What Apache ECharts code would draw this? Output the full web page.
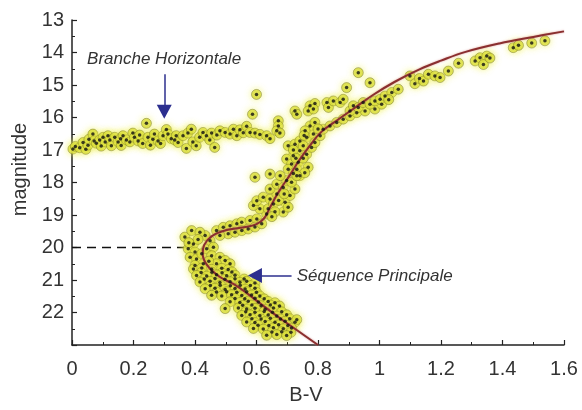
<!DOCTYPE html>
<html>
<head>
<meta charset="utf-8">
<script src="https://cdn.jsdelivr.net/npm/echarts@6/dist/echarts.min.js"></script>
<style>
  html, body { margin: 0; padding: 0; background: #ffffff; }
  #chart { width: 582px; height: 410px; }
</style>
</head>
<body>
<div id="chart"></div>
<script>
// Colour-magnitude diagram of a globular cluster: B-V colour against apparent magnitude.

// Horizontal branch stars [B-V, magnitude]
const horizontalBranch = [
  [0.003,16.97],[0.011,16.89],[0.025,16.93],[0.036,16.77],[0.045,16.98],[0.052,16.85],[0.055,16.67],
  [0.068,16.51],[0.072,16.72],[0.079,16.79],[0.090,16.69],[0.095,16.88],[0.101,16.61],[0.108,16.75],
  [0.117,16.56],[0.123,16.69],[0.128,16.87],[0.139,16.61],[0.150,16.75],[0.158,16.65],[0.160,16.86],
  [0.166,16.56],[0.177,16.69],[0.188,16.75],[0.198,16.48],[0.203,16.61],[0.215,16.72],[0.220,16.54],
  [0.230,16.80],[0.242,16.18],[0.247,16.61],[0.255,16.85],[0.263,16.67],[0.268,16.51],[0.280,16.72],
  [0.288,16.80],[0.296,16.56],[0.307,16.37],[0.312,16.51],[0.323,16.65],[0.334,16.69],[0.339,16.56],
  [0.345,16.77],[0.361,16.56],[0.372,16.95],[0.377,16.48],[0.388,16.36],[0.393,16.75],[0.404,16.87],
  [0.415,16.61],[0.426,16.46],[0.437,16.56],[0.448,16.69],[0.454,16.48],[0.464,16.92],[0.471,16.54],
  [0.481,16.41],[0.498,16.46],[0.514,16.51],[0.525,16.36],[0.536,16.56],[0.546,16.38],[0.557,16.47],
  [0.568,16.27],[0.579,16.46],[0.595,16.48],[0.611,16.52],[0.633,16.56],[0.644,16.65]
];

// Isolated stars between the horizontal branch and the giant branch
const fieldStars = [
  [0.600,15.29],[0.587,15.90],[0.671,16.10],[0.671,16.26],[0.666,16.41],[0.676,16.48],
  [0.931,14.62],[0.595,17.84]
];

// Red giant branch
const giantBranch = [
  [0.725,15.80],[0.731,15.90],[0.774,15.64],[0.790,15.57],[0.768,15.80],[0.785,15.74],
  [0.703,16.87],[0.725,16.82],[0.741,16.72],[0.763,16.61],[0.785,16.51],[0.774,16.26],[0.790,16.15],
  [0.758,16.41],[0.741,17.02],[0.720,17.18],[0.698,17.28],[0.714,17.43],[0.736,17.38],[0.763,17.13],
  [0.779,16.92],[0.790,16.77],[0.752,16.87],[0.731,17.59],[0.703,17.59],[0.741,17.79],[0.768,17.53],
  [0.807,16.56],[0.817,16.36],[0.839,16.26],[0.861,16.15],[0.882,16.05],[0.904,15.95],[0.926,15.85],
  [0.953,15.80],[0.985,15.74],[1.007,15.59],[0.829,15.54],[0.834,15.69],[0.850,15.49],[0.872,15.54],
  [0.882,15.44],[0.904,15.80],[0.915,15.64],[0.931,15.69],[0.947,15.54],[0.969,15.59],[0.985,15.49],
  [1.002,15.44],[1.018,15.34],[1.040,15.23],[1.061,15.13],[0.893,15.08],[0.969,14.93],[1.030,15.45],
  [1.099,14.72],[1.115,14.96],[1.130,14.80],[1.143,14.88],[1.159,14.67],[1.180,14.72],[1.197,14.77],
  [1.224,14.57],[1.257,14.33],[1.311,14.26],[1.327,14.16],[1.349,14.11],[1.338,14.37],[1.359,14.17],
  [1.435,13.85],[1.452,13.78],[1.495,13.71],[1.538,13.64],
  [0.720,17.00],[0.752,17.25],[0.728,17.25],[0.755,16.55],[0.800,16.35],[0.720,17.72],[0.757,17.70]
];

// Subgiant branch and turnoff
const turnoff = [
  [0.470,19.48],[0.492,19.38],[0.514,19.33],[0.536,19.27],[0.552,19.22],[0.579,19.17],[0.601,19.12],
  [0.508,19.58],[0.530,19.53],[0.552,19.48],[0.573,19.43],[0.595,19.37],[0.617,19.27],[0.481,19.63],
  [0.633,18.97],[0.611,18.81],[0.590,18.71],[0.601,18.56],[0.622,18.45],[0.644,18.51],[0.638,18.81],
  [0.655,18.66],[0.666,18.35],[0.644,18.20],[0.666,18.05],[0.687,18.15],[0.698,17.94],[0.677,17.79],
  [0.644,17.74],[0.693,18.61],[0.709,18.40],[0.725,18.20],[0.714,17.99],[0.731,17.79],[0.687,18.91],
  [0.703,18.76],[0.660,18.90],[0.672,18.55],[0.690,18.35],[0.650,19.05],
  [0.367,19.68],[0.389,19.48],[0.395,19.89],[0.378,20.04],[0.400,20.14],[0.384,20.30],[0.405,20.35],
  [0.422,20.19],[0.438,20.04],[0.449,19.79],[0.433,19.63],[0.416,19.53],[0.460,19.99],[0.454,20.25],
  [0.481,20.30],[0.498,20.40],[0.514,20.50],[0.470,20.50],[0.427,20.50],[0.400,20.55],[0.445,20.42],
  [0.410,19.75],[0.380,19.85]
];

// Main sequence below the turnoff
const mainSequence = [
  [0.395,20.66],[0.422,20.63],[0.454,20.67],[0.487,20.64],[0.508,20.68],
  [0.420,20.77],[0.455,20.76],[0.488,20.78],[0.520,20.75],
  [0.405,20.86],[0.438,20.88],[0.470,20.84],[0.503,20.87],[0.530,20.85],
  [0.430,20.97],[0.465,20.95],[0.497,20.98],[0.530,20.96],[0.560,20.97],
  [0.416,21.06],[0.449,21.04],[0.481,21.08],[0.514,21.05],[0.546,21.07],[0.568,21.04],[0.595,21.09],
  [0.450,21.17],[0.482,21.16],[0.515,21.18],[0.547,21.16],[0.580,21.17],
  [0.433,21.27],[0.465,21.25],[0.498,21.29],[0.530,21.26],[0.563,21.28],[0.595,21.25],
  [0.470,21.37],[0.503,21.36],[0.536,21.38],[0.568,21.36],[0.600,21.38],
  [0.454,21.47],[0.487,21.49],[0.519,21.45],[0.552,21.48],[0.584,21.46],[0.611,21.49],
  [0.530,21.57],[0.562,21.58],[0.595,21.56],[0.625,21.58],
  [0.514,21.67],[0.546,21.69],[0.573,21.65],[0.606,21.68],[0.638,21.66],[0.660,21.70],
  [0.555,21.78],[0.585,21.77],[0.615,21.79],[0.645,21.77],[0.675,21.80],
  [0.498,21.88],[0.541,21.86],[0.568,21.89],[0.595,21.87],[0.628,21.90],[0.655,21.86],
  [0.565,21.98],[0.595,21.99],[0.625,21.97],[0.652,21.99],[0.682,21.98],
  [0.552,22.09],[0.579,22.07],[0.611,22.10],[0.638,22.08],[0.666,22.11],[0.698,22.07],
  [0.585,22.19],[0.615,22.20],[0.645,22.18],[0.678,22.20],[0.708,22.19],
  [0.568,22.29],[0.595,22.31],[0.628,22.28],[0.660,22.30],[0.693,22.27],[0.725,22.30],[0.731,22.22],
  [0.605,22.39],[0.640,22.40],[0.672,22.38],[0.702,22.40],
  [0.590,22.49],[0.622,22.51],[0.655,22.47],[0.687,22.50],[0.714,22.48],
  [0.650,22.60],[0.682,22.59],[0.712,22.61],
  [0.633,22.70],[0.666,22.68],[0.698,22.71]
];

// Fitted isochrone [B-V, magnitude]
const isochrone = [
  [0.80,23.0],[0.74,22.6],[0.68,22.2],[0.62,21.78],[0.575,21.45],[0.53,21.15],[0.48,20.9],
  [0.44,20.55],[0.425,20.2],[0.43,19.92],[0.455,19.65],[0.50,19.47],[0.56,19.38],[0.60,19.28],
  [0.625,19.1],[0.645,18.75],[0.665,18.4],[0.685,18.1],[0.71,17.75],[0.74,17.3],[0.775,16.85],
  [0.81,16.45],[0.86,16.1],[0.92,15.7],[0.98,15.3],[1.05,14.9],[1.13,14.52],[1.2,14.25],
  [1.28,13.98],[1.39,13.72],[1.5,13.52],[1.6,13.35]
];

// Turnoff magnitude guide
const turnoffLevel = [[0, 20], [0.40, 20]];

// Annotation labels and their arrows
const labelHB = { text: 'Branche Horizontale', at: [0.049, 14.21] };
const labelMS = { text: 'Séquence Principale', at: [0.731, 20.87] };
const arrowHB = [[0.30, 14.67], [0.30, 15.82]];
const arrowMS = [[0.714, 20.86], [0.595, 20.86]];

const stars = horizontalBranch.concat(fieldStars, giantBranch, turnoff, mainSequence);

const ink = '#222222';
const arrowBlue = '#2c2f8e';

const chart = echarts.init(document.getElementById('chart'), null, { renderer: 'canvas' });

chart.setOption({
  animation: false,
  backgroundColor: '#ffffff',
  grid: { left: 72, right: 18, top: 20, bottom: 63 },
  xAxis: {
    type: 'value', min: 0, max: 1.6, interval: 0.2, position: 'bottom',
    name: 'B-V', nameLocation: 'middle', nameGap: 40,
    nameTextStyle: { fontSize: 20, color: '#333', fontFamily: 'Liberation Sans', padding: [0, 24, 0, 0] },
    axisLine: { onZero: false, lineStyle: { color: ink, width: 1.5 } },
    axisTick: { inside: true, length: 5, lineStyle: { color: ink, width: 1.2 } },
    minorTick: { show: true, splitNumber: 2, length: 3, lineStyle: { color: ink, width: 1 } },
    axisLabel: { fontSize: 20, color: '#333', margin: 14, fontFamily: 'Liberation Sans' },
    splitLine: { show: false }
  },
  yAxis: {
    type: 'value', min: 13, max: 23, interval: 1, inverse: true,
    name: 'magnitude', nameLocation: 'middle', nameGap: 33, nameRotate: 90,
    nameTextStyle: { fontSize: 20, color: '#333', fontFamily: 'Liberation Sans', padding: [0, 0, 0, 26] },
    axisLine: { lineStyle: { color: ink, width: 1.5 } },
    axisTick: { inside: true, length: 5, lineStyle: { color: ink, width: 1.2 } },
    minorTick: { show: true, splitNumber: 2, length: 3, lineStyle: { color: ink, width: 1 } },
    axisLabel: { fontSize: 20, color: '#333', margin: 8, fontFamily: 'Liberation Sans',
      formatter: v => (v === 23 ? '' : String(v)) },
    splitLine: { show: false }
  },
  series: [
    {
      name: 'turnoff level', type: 'line', data: turnoffLevel, symbol: 'none', z: 1,
      lineStyle: { color: '#111', width: 1.6, type: [9, 6] },
      markLine: {
        silent: true, symbol: ['none', 'triangle'], symbolSize: [15, 14], precision: 3,
        lineStyle: { color: arrowBlue, width: 1.5, type: 'solid' },
        label: { show: false },
        data: [
          [{ coord: arrowHB[0] }, { coord: arrowHB[1] }],
          [{ coord: arrowMS[0] }, { coord: arrowMS[1] }]
        ]
      },
      markPoint: {
        silent: true, symbol: 'circle', symbolSize: 0,
        label: {
          show: true, position: 'right', distance: 0, formatter: '{b}',
          fontSize: 17, fontStyle: 'italic', color: '#333', fontFamily: 'Liberation Sans'
        },
        data: [
          { name: labelHB.text, coord: labelHB.at },
          { name: labelMS.text, coord: labelMS.at }
        ]
      }
    },
    {
      name: 'stars', type: 'scatter', data: stars, symbolSize: 10, z: 2,
      itemStyle: {
        color: '#d8dc3a', borderColor: 'rgba(85,85,25,0.6)', borderWidth: 0.8,
        shadowBlur: 7, shadowColor: 'rgba(240,242,90,0.95)'
      }
    },
    {
      name: 'isochrone', type: 'line', data: isochrone, smooth: 0.4, symbol: 'none', z: 3,
      lineStyle: { color: '#8a2f2f', width: 2, shadowBlur: 2, shadowColor: 'rgba(210,130,130,0.8)' }
    },
    {
      name: 'star centres', type: 'scatter', data: stars, symbolSize: 3.5, z: 4,
      itemStyle: { color: '#111111' }
    }
  ]
});
</script>
</body>
</html>
